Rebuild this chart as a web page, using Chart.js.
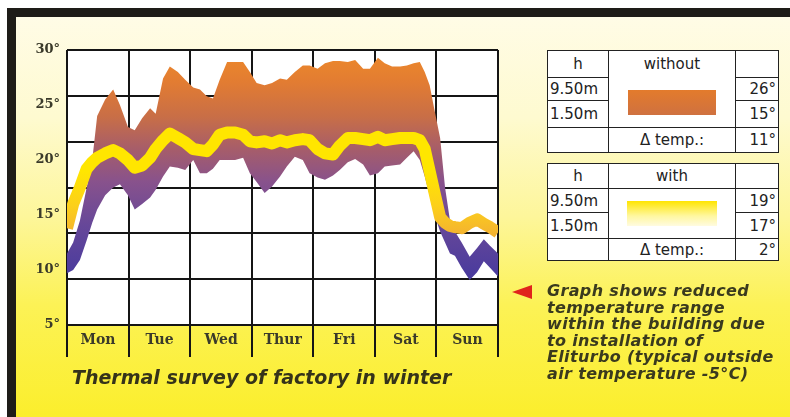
<!DOCTYPE html>
<html>
<head>
<meta charset="utf-8">
<script src="https://cdn.jsdelivr.net/npm/chart.js@4.4.0/dist/chart.umd.min.js"></script>
<style>
  html, body { margin: 0; padding: 0; width: 790px; height: 417px; overflow: hidden; background: #fff; }
  #frame {
    position: absolute; left: 7px; top: 8px; right: 0; bottom: 0;
    border-top: 9px solid #1e1c18; border-left: 9px solid #1e1c18;
    background: linear-gradient(to bottom, #fffce6 0%, #fefad0 25%, #fdf69a 50%, #fcf256 72%, #fbee2c 100%);
  }
  #chartBox { position: absolute; left: 0; top: 0; width: 520px; height: 417px; }
  .title {
    position: absolute; left: 72px; top: 366px;
    font: italic bold 19px "DejaVu Sans", sans-serif; color: #35331a; white-space: nowrap;
  }
  .note {
    position: absolute; left: 547px; top: 283px;
    font: italic bold 16px/16.6px "DejaVu Sans", sans-serif; color: #3a3a1e;
    letter-spacing: 0.35px; white-space: nowrap;
  }
  .arrow {
    position: absolute; left: 512px; top: 285px; width: 0; height: 0;
    border-top: 7px solid transparent; border-bottom: 7px solid transparent;
    border-right: 20px solid #e0241c;
  }
  table.leg {
    position: absolute; border-collapse: collapse; background: #fff;
    font: 15px "DejaVu Sans", sans-serif; color: #222; table-layout: fixed;
  }
  table.leg td { border: 1.5px solid #222; padding: 0 2px; white-space: nowrap; }
  td.c { text-align: center; }
  td.r { text-align: right; }
  td.nb { border-bottom-style: hidden !important; }
  .swatch { margin: 0 auto; width: 88px; height: 25px; }
</style>
</head>
<body>
<div id="frame"></div>
<div id="chartBox"><canvas id="chart" width="520" height="417"></canvas></div>
<div class="title">Thermal survey of factory in winter</div>

<table class="leg" style="left:547px; top:50px; width:231px;">
  <colgroup><col style="width:61px"><col style="width:127px"><col style="width:43px"></colgroup>
  <tr style="height:27px"><td class="c">h</td><td class="c nb">without</td><td></td></tr>
  <tr style="height:23px"><td>9.50m</td>
    <td rowspan="2"><div class="swatch" style="background:linear-gradient(#e37b2c,#cf7140);"></div></td>
    <td class="r">26°</td></tr>
  <tr style="height:27px"><td>1.50m</td><td class="r">15°</td></tr>
  <tr style="height:25px"><td></td><td class="c">Δ temp.:</td><td class="r">11°</td></tr>
</table>

<table class="leg" style="left:547px; top:163px; width:231px;">
  <colgroup><col style="width:61px"><col style="width:127px"><col style="width:43px"></colgroup>
  <tr style="height:25px"><td class="c">h</td><td class="c">with</td><td></td></tr>
  <tr style="height:24px"><td>9.50m</td>
    <td rowspan="2"><div class="swatch" style="width:90px; background:linear-gradient(#ffe500,#fff7a0 60%,#fffbe0);"></div></td>
    <td class="r">19°</td></tr>
  <tr style="height:26px"><td>1.50m</td><td class="r">17°</td></tr>
  <tr style="height:22px"><td></td><td class="c">Δ temp.:</td><td class="r">2°</td></tr>
</table>

<div class="arrow"></div>
<div class="note">Graph shows reduced<br>temperature range<br>within the building due<br>to installation of<br>Eliturbo (typical outside<br>air temperature -5°C)</div>

<script>
// jours de la semaine (une colonne par jour)
const days = ['Mon', 'Tue', 'Wed', 'Thur', 'Fri', 'Sat', 'Sun'];
const yTicks = [5, 10, 15, 20, 25, 30];

// position dans la semaine (0 = lundi 0h, 7 = fin du dimanche)
const dayPos = [0, 0.10, 0.21, 0.32, 0.41, 0.49, 0.62, 0.75, 0.86, 0.99,
  1.10, 1.22, 1.35, 1.44, 1.56, 1.67, 1.80, 1.92, 2.05, 2.16,
  2.27, 2.37, 2.48, 2.60, 2.73, 2.86, 2.97, 3.08, 3.21, 3.33,
  3.46, 3.57, 3.70, 3.83, 3.94, 4.07, 4.19, 4.32, 4.43, 4.56,
  4.68, 4.81, 4.92, 5.05, 5.16, 5.28, 5.41, 5.52, 5.63, 5.73,
  5.81, 5.89, 5.97, 6.06, 6.14, 6.22, 6.30, 6.41, 6.54, 6.66,
  6.77, 6.87, 7.0];

// sans Eliturbo : haut (9.50m) et bas (1.50m)
const withoutHigh = [11.5, 12.5, 14.5, 17.5, 20.0, 24.0, 25.5, 26.4, 25.0, 23.0,
  22.7, 23.8, 24.7, 24.2, 27.4, 28.5, 28.0, 27.3, 26.6, 26.4,
  25.8, 25.6, 27.3, 28.9, 28.9, 28.9, 28.0, 27.0, 26.8, 27.0,
  27.4, 27.3, 28.0, 28.6, 28.6, 28.3, 28.8, 29.0, 29.0, 28.9,
  29.1, 28.3, 28.3, 29.3, 28.8, 28.5, 28.5, 28.6, 28.8, 28.9,
  28.0, 26.8, 24.5, 22.0, 17.5, 14.5, 13.5, 12.5, 11.2, 12.0,
  12.8, 12.2, 11.5];
const withoutLow = [9.7, 10.0, 10.9, 12.7, 14.3, 15.5, 16.8, 17.5, 17.8, 16.8,
  15.5, 16.0, 16.6, 17.3, 18.5, 19.4, 19.3, 19.1, 20.0, 18.8,
  18.8, 19.2, 20.0, 20.0, 20.0, 20.2, 18.8, 18.0, 17.0, 17.6,
  18.5, 19.4, 20.3, 20.0, 18.8, 18.4, 18.2, 18.6, 19.1, 19.8,
  20.1, 19.6, 18.6, 18.8, 19.4, 19.5, 19.6, 20.2, 20.8, 20.0,
  18.5, 16.8, 15.0, 13.5, 12.5, 11.5, 11.3, 10.2, 9.1, 9.8,
  10.8, 10.2, 9.4];
// avec Eliturbo : température moyenne (bande jaune)
const withTemp = [13.8, 16.0, 17.5, 19.2, 19.8, 20.2, 20.6, 20.9, 20.6, 20.0,
  19.3, 19.5, 20.2, 21.0, 21.8, 22.4, 22.0, 21.6, 21.0, 20.9,
  20.8, 21.4, 22.3, 22.5, 22.5, 22.3, 21.7, 21.6, 21.7, 21.5,
  21.8, 21.6, 21.8, 21.9, 21.8, 21.0, 20.6, 20.5, 21.3, 22.0,
  22.0, 21.9, 21.8, 22.1, 21.8, 21.9, 22.0, 22.0, 22.0, 21.8,
  21.0, 19.0, 17.0, 14.8, 14.3, 14.0, 13.9, 13.8, 14.3, 14.6,
  14.2, 13.9, 13.4];

const toPoints = (vals) => vals.map((v, i) => ({ x: dayPos[i], y: v }));

function bandFill(context) {
  const chart = context.chart;
  if (!chart.chartArea) return null;
  const y = chart.scales.y;
  const g = chart.ctx.createLinearGradient(0, y.getPixelForValue(30), 0, y.getPixelForValue(9));
  g.addColorStop(0, '#ee8a2a');
  g.addColorStop(0.14, '#e27c32');
  g.addColorStop(0.29, '#c86e47');
  g.addColorStop(0.43, '#a65d6a');
  g.addColorStop(0.57, '#88528c');
  g.addColorStop(0.76, '#664799');
  g.addColorStop(1, '#473a9e');
  return g;
}

function yellowLine(context) {
  const chart = context.chart;
  if (!chart.chartArea) return '#ffe500';
  const y = chart.scales.y;
  const g = chart.ctx.createLinearGradient(0, y.getPixelForValue(19), 0, y.getPixelForValue(12));
  g.addColorStop(0, '#ffe600');
  g.addColorStop(0.45, '#fcd01a');
  g.addColorStop(1, '#f0a53a');
  return g;
}

const plotBg = {
  id: 'plotBg',
  beforeDraw(chart) {
    const { ctx, chartArea: a } = chart;
    ctx.save();
    ctx.fillStyle = '#ffffff';
    ctx.fillRect(a.left, a.top, a.right - a.left, a.bottom - a.top);
    ctx.restore();
  }
};

const tickFont = { family: '"DejaVu Serif", serif', size: 13, weight: 'bold' };

new Chart(document.getElementById('chart').getContext('2d'), {
  type: 'line',
  data: {
    datasets: [
      {
        label: 'with',
        data: toPoints(withTemp),
        borderColor: yellowLine,
        borderWidth: 12,
        borderJoinStyle: 'round',
        fill: false,
        clip: 0,
        order: 0
      },
      {
        label: 'without 1.50m',
        data: toPoints(withoutLow),
        borderWidth: 0,
        borderColor: 'rgba(0,0,0,0)',
        fill: false,
        order: 2
      },
      {
        label: 'without 9.50m',
        data: toPoints(withoutHigh),
        borderWidth: 0,
        borderColor: 'rgba(0,0,0,0)',
        backgroundColor: bandFill,
        fill: '-1',
        order: 1
      }
    ]
  },
  options: {
    responsive: false,
    animation: false,
    layout: { padding: { left: 0, top: 50, right: 22, bottom: 0 } },
    elements: { point: { radius: 0 }, line: { tension: 0 } },
    plugins: { legend: { display: false }, tooltip: { enabled: false } },
    scales: {
      x: {
        type: 'linear', min: 0, max: 7,
        afterFit: (s) => { s.height = 92; },
        ticks: {
          stepSize: 1, autoSkip: false, maxRotation: 0,
          callback: (v) => days[v] ?? '',
          labelOffset: 31, padding: -25,
          color: '#3a3a2a', font: { ...tickFont, size: 14 }
        },
        grid: { color: '#151515', lineWidth: 2, tickLength: 32 },
        border: { color: '#151515', width: 2 }
      },
      y: {
        min: 5, max: 30, position: 'left',
        afterFit: (s) => { s.width = 67; },
        afterBuildTicks: (s) => { s.ticks = yTicks.map((v) => ({ value: v })); },
        ticks: { callback: (v) => v + '°', padding: 7, color: '#3a3a2a', font: tickFont },
        grid: { display: false, drawTicks: false },
        border: { display: false }
      },
      y2: {
        min: 0, max: 6, position: 'left',
        afterFit: (s) => { s.width = 0; },
        ticks: { stepSize: 1, display: false },
        grid: { color: '#151515', lineWidth: 2, drawTicks: false },
        border: { display: false }
      }
    }
  },
  plugins: [plotBg]
});
</script>
</body>
</html>
